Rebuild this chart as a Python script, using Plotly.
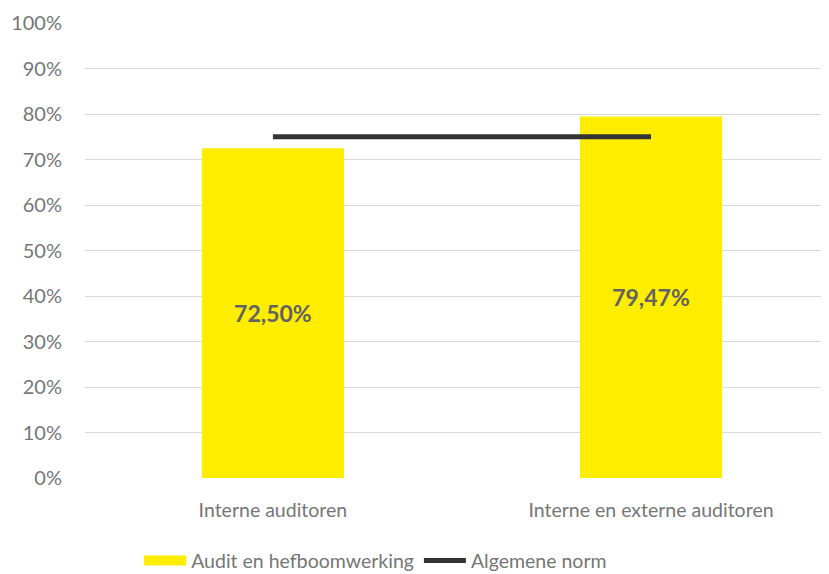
import plotly.graph_objects as go

categories = ["Interne auditoren", "Interne en externe auditoren"]
audit_values = [72.50, 79.47]
norm_values = [75, 75]
bar_labels = ["72,50%", "79,47%"]
tick_vals = [0, 10, 20, 30, 40, 50, 60, 70, 80, 90, 100]
tick_text = ["0%", "10%", "20%", "30%", "40%", "50%", "60%", "70%", "80%", "90%", "100%"]

FONT = "Lato"
TXT = "#767676"

fig = go.Figure()
fig.add_trace(go.Bar(
    x=categories, y=audit_values, name="Audit en hefboomwerking",
    marker=dict(color="#FFED00", line=dict(width=0)),
    width=0.376,
    text=bar_labels, textposition="inside", insidetextanchor="middle",
    textfont=dict(family=FONT, size=23, color="#626262", weight="bold"),
    showlegend=False,
))
fig.add_trace(go.Scatter(
    x=[None], y=[None], mode="lines", name="Audit en hefboomwerking",
    line=dict(color="#FFED00", width=12), showlegend=True,
))
fig.add_trace(go.Scatter(
    x=categories, y=norm_values, mode="lines", name="Algemene norm",
    line=dict(color="#333333", width=5),
))

fig.update_layout(
    width=829, height=574,
    margin=dict(l=77, r=0, t=15, b=104),
    plot_bgcolor="white", paper_bgcolor="white",
    font=dict(family=FONT, size=18, color=TXT),
    xaxis=dict(range=[-0.497, 1.492], showgrid=False, zeroline=False,
               showline=False, ticks="", ticklabelstandoff=18,
               tickfont=dict(family=FONT, size=19.5, color=TXT)),
    yaxis=dict(range=[0, 100], tickvals=tick_vals, ticktext=tick_text,
               showgrid=True, gridcolor="#d9d9d9", gridwidth=1.3,
               zeroline=False, showline=False, ticks="",
               ticklabelstandoff=22, tickfont=dict(family=FONT, size=20, color=TXT)),
    legend=dict(orientation="h", x=0.072, xanchor="left", y=-0.182, yanchor="middle",
                font=dict(family=FONT, size=19.5, color=TXT), itemwidth=42, traceorder="normal"),
    bargap=0.6,
)
fig.write_html("out.html")
